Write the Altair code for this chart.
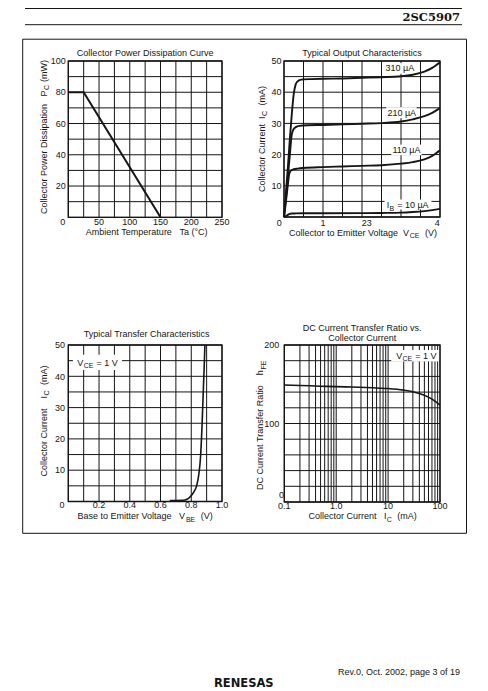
import altair as alt
import pandas as pd

# ---------------- data ----------------
# Panel 1: Collector Power Dissipation Curve
pd_ta = [0, 25, 150]
pd_pc = [80, 80, 0]
pd_xgrid = [0, 25, 50, 75, 100, 125, 150, 175, 200, 225, 250]
pd_ygrid = [0, 10, 20, 30, 40, 50, 60, 70, 80, 90, 100]
pd_xtick = [50, 100, 150, 200, 250]
pd_xtick_txt = ["50", "100", "150", "200", "250"]
pd_ytick = [20, 40, 60, 80, 100]
pd_ytick_txt = ["20", "40", "60", "80", "100"]

# Panel 2: Typical Output Characteristics
oc_vce_10 = [0, 0.05, 0.10, 0.15, 0.20, 0.30, 0.50, 1.00, 2.00, 2.50, 3.00, 3.30, 3.60, 3.80, 4.00]
oc_ic_10 = [0, 0.30, 0.70, 1.00, 1.10, 1.15, 1.20, 1.20, 1.25, 1.30, 1.40, 1.60, 1.90, 2.20, 2.60]
oc_vce_110 = [0, 0.05, 0.10, 0.13, 0.17, 0.25, 0.35, 0.50, 1.00, 1.50, 2.00, 2.50, 3.00, 3.30, 3.60, 3.80, 4.00]
oc_ic_110 = [0, 5.0, 10.5, 13.5, 14.8, 15.3, 15.5, 15.7, 16.0, 16.2, 16.4, 16.6, 17.1, 17.6, 18.5, 19.6, 21.4]
oc_vce_210 = [0, 0.05, 0.10, 0.15, 0.20, 0.25, 0.30, 0.40, 0.60, 1.00, 1.50, 2.00, 2.50, 3.00, 3.30, 3.60, 3.80, 4.00]
oc_ic_210 = [0, 6.0, 13.0, 20.0, 26.5, 28.2, 28.8, 29.2, 29.4, 29.5, 29.7, 29.9, 30.1, 30.6, 31.3, 32.3, 33.4, 34.9]
oc_vce_310 = [0, 0.05, 0.10, 0.15, 0.20, 0.25, 0.30, 0.35, 0.40, 0.50, 0.70, 1.00, 1.50, 2.00, 2.50, 3.00, 3.30, 3.60, 3.80, 4.00]
oc_ic_310 = [0, 8.0, 16.0, 25.0, 33.0, 39.5, 42.5, 43.5, 43.9, 44.1, 44.2, 44.3, 44.4, 44.6, 44.8, 45.1, 45.6, 46.6, 47.8, 49.6]
oc_xgrid = [0, 0.5, 1.0, 1.5, 2.0, 2.5, 3.0, 3.5, 4.0]
oc_ygrid = [0, 5, 10, 15, 20, 25, 30, 35, 40, 45, 50]
oc_xtick = [1, 2.12, 3.93]
oc_xtick_txt = ["1", "23", "4"]
oc_ytick = [10, 20, 30, 40, 50]
oc_ytick_txt = ["10", "20", "30", "40", "50"]
oc_lab_vce = [2.97, 3.02, 3.14]
oc_lab_ic = [47.7, 33.4, 21.5]
oc_lab_txt = ["310 µA", "210 µA", "110 µA"]
oc_ib_lab_at = [3.17, 3.85]
oc_box_v0 = [2.58, 2.62, 2.75, 2.58]
oc_box_v1 = [3.36, 3.40, 3.53, 3.78]
oc_box_i0 = [45.9, 31.7, 19.8, 2.4]
oc_box_i1 = [49.3, 35.2, 23.2, 5.6]

# Panel 3: Typical Transfer Characteristics
tc_vbe = [0.66, 0.70, 0.74, 0.76, 0.78, 0.80, 0.82, 0.835, 0.85, 0.86, 0.87, 0.878, 0.884, 0.889]
tc_ic = [0.3, 0.3, 0.35, 0.5, 0.9, 1.9, 3.3, 5.0, 9.0, 14.0, 24.0, 35.0, 43.0, 50.0]
tc_xgrid = [0, 0.1, 0.2, 0.3, 0.4, 0.5, 0.6, 0.7, 0.8, 0.9, 1.0]
tc_ygrid = [0, 5, 10, 15, 20, 25, 30, 35, 40, 45, 50]
tc_xtick = [0.2, 0.4, 0.6, 0.8, 1.0]
tc_xtick_txt = ["0.2", "0.4", "0.6", "0.8", "1.0"]
tc_ytick = [10, 20, 30, 40, 50]
tc_ytick_txt = ["10", "20", "30", "40", "50"]
tc_lab_at = [0.19, 44.4]
tc_box = [0.030, 0.350, 42.0, 46.9]

# Panel 4: DC Current Transfer Ratio vs. Collector Current
hf_ic = [0.1, 0.2, 0.5, 1, 2, 5, 10, 20, 30, 50, 70, 100]
hf_h = [149, 148.5, 147.5, 147, 146.5, 145.5, 144.5, 142.5, 140.5, 136, 131, 123.5]
hf_xgrid = [0.1, 0.2, 0.3, 0.4, 0.5, 0.6, 0.7, 0.8, 0.9, 1, 2, 3, 4, 5, 6, 7, 8, 9,
            10, 20, 30, 40, 50, 60, 70, 80, 90, 100]
hf_ygrid = [0, 20, 40, 60, 80, 100, 120, 140, 160, 180, 200]
hf_xtick = [0.1, 1, 10, 100]
hf_xtick_txt = ["0.1", "1.0", "10", "100"]
hf_ytick = [100, 200]
hf_ytick_txt = ["100", "200"]
hf_lab_at = [35, 186.4]
hf_box = [11.5, 97, 179, 193.5]

# ---------------- styling / layout ----------------
FONT = "Liberation Sans"
INK = "#151515"
M = 8  # page margin: page coordinate -> chart coordinate
NB = "\u00a0"

LAY = {
    "pd": dict(x0=68.3, x1=222.0, y0=61.0, y1=217.3),
    "oc": dict(x0=284.0, x1=440.0, y0=61.0, y1=217.0),
    "tc": dict(x0=68.3, x1=222.0, y0=345.0, y1=501.5),
    "hf": dict(x0=284.3, x1=440.0, y0=345.0, y1=502.0),
}

CW = {' ': 278, NB: 278, '(': 333, ')': 333, '.': 278, ',': 278, '=': 584, '°': 400, 'µ': 576,
      '-': 333, 'A': 667, 'B': 667, 'C': 722, 'D': 722, 'E': 667, 'F': 611, 'I': 278, 'M': 833,
      'P': 667, 'R': 722, 'S': 667, 'T': 611, 'V': 667, 'W': 944,
      'a': 556, 'b': 556, 'c': 500, 'd': 556, 'e': 556, 'f': 278, 'g': 556, 'h': 556, 'i': 222,
      'l': 222, 'm': 833, 'n': 556, 'o': 556, 'p': 556, 'r': 333, 's': 500, 't': 278, 'u': 556,
      'v': 500, 'w': 722, 'y': 500}


def tw(s, size):
    return sum(CW.get(c, 556) for c in s) * size / 1000.0


layers = []
ONE = pd.DataFrame({"k": [0]})


def add(ch):
    layers.append(ch)


def rich(pieces, x, y, data=None, angle=0, size=9, sub=7, drop=2.4, mid=3.2,
         font=FONT, weight="normal", align="center", color=INK, subpad=0.8):
    data = ONE if data is None else data
    if len(pieces) == 1 and not pieces[0][1]:
        add(alt.Chart(data).mark_text(text=pieces[0][0].replace(" ", NB), align=align,
                                      baseline="alphabetic", angle=angle, dy=mid, fontSize=size,
                                      font=font, fontWeight=weight, color=color)
            .encode(x=x, y=y))
        return
    # split every piece into (leading gap, visible text, trailing gap)
    parts = []
    for t, s in pieces:
        fs = sub if s else size
        core = t.strip(" ")
        lead = (len(t) - len(t.lstrip(" "))) * tw(" ", fs)
        trail = (len(t) - len(t.rstrip(" "))) * tw(" ", fs)
        w = tw(core.replace(" ", NB), fs) + (subpad if s else 0)
        parts.append((core.replace(" ", NB), s, fs, lead, w, trail))
    tot = sum(p[3] + p[4] + p[5] for p in parts)
    off = {"center": -tot / 2, "right": -tot, "left": 0}[align]
    for core, s, fs, lead, w, trail in parts:
        off += lead
        add(alt.Chart(data).mark_text(text=core, align="left", baseline="alphabetic", angle=angle,
                                      dx=round(off + (0.3 if s else 0), 2),
                                      dy=round(mid + (drop if s else 0), 2),
                                      fontSize=fs, font=font, fontWeight=weight,
                                      color=color).encode(x=x, y=y))
        off += w + trail


def V(v):
    return alt.value(round(v - M, 2))


def panel(key, xdom, ydom, xgrid, ygrid, xlog=False):
    p = LAY[key]
    if xlog:
        xs = alt.Scale(type="log", domain=xdom, range=[p["x0"] - M, p["x1"] - M], nice=False)
    else:
        xs = alt.Scale(domain=xdom, range=[p["x0"] - M, p["x1"] - M], nice=False, zero=False)
    ys = alt.Scale(domain=ydom, range=[p["y1"] - M, p["y0"] - M], nice=False, zero=False)

    def X(f):
        return alt.X(f, scale=xs, axis=None)

    def Y(f):
        return alt.Y(f, scale=ys, axis=None)

    vx = pd.DataFrame({"v": xgrid, "lo": [ydom[0]] * len(xgrid), "hi": [ydom[1]] * len(xgrid)})
    vy = pd.DataFrame({"v": ygrid, "lo": [xdom[0]] * len(ygrid), "hi": [xdom[1]] * len(ygrid)})
    add(alt.Chart(vx).mark_rule(color=INK, strokeWidth=1).encode(x=X("v:Q"), y=Y("lo:Q"), y2="hi:Q"))
    add(alt.Chart(vy).mark_rule(color=INK, strokeWidth=1).encode(y=Y("v:Q"), x=X("lo:Q"), x2="hi:Q"))
    return p, X, Y


def border(X, Y, xdom, ydom):
    df = pd.DataFrame({"a": [xdom[0]], "b": [xdom[1]], "c": [ydom[0]], "d": [ydom[1]]})
    add(alt.Chart(df).mark_rect(filled=False, color=INK, strokeWidth=1.3)
        .encode(x=X("a:Q"), x2="b:Q", y=Y("c:Q"), y2="d:Q"))


def boxes(X, Y, x0, x1, y0, y1):
    df = pd.DataFrame({"a": x0, "b": x1, "c": y0, "d": y1})
    add(alt.Chart(df).mark_rect(color="white", opacity=1)
        .encode(x=X("a:Q"), x2="b:Q", y=Y("c:Q"), y2="d:Q"))


def xlabels(X, Y, pos, txt, ybase, dy=7.2, dx=0):
    df = pd.DataFrame({"v": pos, "t": txt, "b": [ybase] * len(pos)})
    add(alt.Chart(df).mark_text(font=FONT, fontSize=9, color=INK, baseline="alphabetic",
                                align="center", dx=dx, dy=dy)
        .encode(x=X("v:Q"), y=Y("b:Q"), text="t:N"))


def ylabels(X, Y, pos, txt, xbase, dx=-3, dy=3.2):
    df = pd.DataFrame({"v": pos, "t": txt, "b": [xbase] * len(pos)})
    add(alt.Chart(df).mark_text(font=FONT, fontSize=9, color=INK, baseline="alphabetic",
                                align="right", dx=dx, dy=dy)
        .encode(x=X("b:Q"), y=Y("v:Q"), text="t:N"))


# ---------------- page furniture ----------------
add(alt.Chart(ONE).mark_rule(color=INK, strokeWidth=1).encode(x=V(25), x2=V(462), y=V(8.5)))
add(alt.Chart(ONE).mark_rule(color=INK, strokeWidth=1).encode(x=V(25), x2=V(462), y=V(24.7)))
rich([("2SC5907", 0)], V(460), V(16.7), font="DejaVu Serif", weight="bold", size=11.5,
     align="right", mid=4.1)
add(alt.Chart(ONE).mark_rect(filled=False, color=INK, strokeWidth=1)
    .encode(x=V(22.7), x2=V(466.5), y=V(39.2), y2=V(533.3)))
rich([("Rev.0, Oct. 2002, page 3 of 19", 0)], V(460), V(671.7), align="right")
rich([("RENESAS", 0)], V(243.8), V(683.3), font="DejaVu Sans", weight="bold", size=11.5,
     mid=4.1)

# ---------------- panel 1 ----------------
p, X, Y = panel("pd", [0, 250], [0, 100], pd_xgrid, pd_ygrid)
border(X, Y, [0, 250], [0, 100])
add(alt.Chart(pd.DataFrame({"ta": pd_ta, "pc": pd_pc})).mark_line(color=INK, strokeWidth=2)
    .encode(x=X("ta:Q"), y=Y("pc:Q")))
xlabels(X, Y, pd_xtick, pd_xtick_txt, 0, dy=7.6)
xlabels(X, Y, [0], ["0"], 0, dy=7.6, dx=-5.6)
ylabels(X, Y, pd_ytick, pd_ytick_txt, 0, dx=-2.6)
cx = (p["x0"] + p["x1"]) / 2
rich([("Collector Power Dissipation Curve", 0)], V(cx), V(52.7))
rich([("Ambient Temperature   Ta (°C)", 0)], V(cx + 1.5), V(232.0))
rich([("Collector Power Dissipation   P", 0), ("C", 1), (" (mW)", 0)], V(43.3), V(137.0),
     angle=270)

# ---------------- panel 2 ----------------
p, X, Y = panel("oc", [0, 4], [0, 50], oc_xgrid, oc_ygrid)
boxes(X, Y, oc_box_v0, oc_box_v1, oc_box_i0, oc_box_i1)
border(X, Y, [0, 4], [0, 50])
oc_rows = []
for ib, vs, cs in [("10", oc_vce_10, oc_ic_10), ("110", oc_vce_110, oc_ic_110),
                   ("210", oc_vce_210, oc_ic_210), ("310", oc_vce_310, oc_ic_310)]:
    for v, c in zip(vs, cs):
        oc_rows.append({"ib": ib, "vce": v, "ic": c})
add(alt.Chart(pd.DataFrame(oc_rows)).mark_line(color=INK, strokeWidth=1.9, interpolate="monotone")
    .encode(x=X("vce:Q"), y=Y("ic:Q"), detail="ib:N"))
xlabels(X, Y, oc_xtick, oc_xtick_txt, 0, dy=8.8)
xlabels(X, Y, [0], ["0"], 0, dy=8.8, dx=-4.7)
ylabels(X, Y, oc_ytick, oc_ytick_txt, 0, dx=-2.4)
for t, v, c in zip(oc_lab_txt, oc_lab_vce, oc_lab_ic):
    rich([(t, 0)], X("x:Q"), Y("y:Q"), data=pd.DataFrame({"x": [v], "y": [c]}))
rich([("I", 0), ("B", 1), (" = 10 µA", 0)], X("x:Q"), Y("y:Q"),
     data=pd.DataFrame({"x": [oc_ib_lab_at[0]], "y": [oc_ib_lab_at[1]]}))
cx = (p["x0"] + p["x1"]) / 2
rich([("Typical Output Characteristics", 0)], V(cx), V(52.7))
rich([("Collector to Emitter Voltage  V", 0), ("CE", 1), ("  (V)", 0)], V(cx + 1), V(232.8))
rich([("Collector Current  I", 0), ("C", 1), ("  (mA)", 0)], V(261.7), V(139.0), angle=270)

# ---------------- panel 3 ----------------
p, X, Y = panel("tc", [0, 1.0], [0, 50], tc_xgrid, tc_ygrid)
boxes(X, Y, [tc_box[0]], [tc_box[1]], [tc_box[2]], [tc_box[3]])
border(X, Y, [0, 1.0], [0, 50])
add(alt.Chart(pd.DataFrame({"vbe": tc_vbe, "ic": tc_ic}))
    .mark_line(color=INK, strokeWidth=1.6, interpolate="monotone")
    .encode(x=X("vbe:Q"), y=Y("ic:Q")))
xlabels(X, Y, tc_xtick, tc_xtick_txt, 0, dy=6.6)
xlabels(X, Y, [0], ["0"], 0, dy=6.6, dx=-6.4)
ylabels(X, Y, tc_ytick, tc_ytick_txt, 0, dx=-3.3)
rich([("V", 0), ("CE", 1), (" = 1 V", 0)], X("x:Q"), Y("y:Q"),
     data=pd.DataFrame({"x": [tc_lab_at[0]], "y": [tc_lab_at[1]]}))
cx = (p["x0"] + p["x1"]) / 2
rich([("Typical Transfer Characteristics", 0)], V(cx + 1.5), V(333.3))
rich([("Base to Emitter Voltage   V", 0), ("BE", 1), ("  (V)", 0)], V(cx), V(516.2))
rich([("Collector Current    I", 0), ("C", 1), ("  (mA)", 0)], V(43.3), V(421.0), angle=270)

# ---------------- panel 4 ----------------
p, X, Y = panel("hf", [0.1, 100], [0, 200], hf_xgrid, hf_ygrid, xlog=True)
boxes(X, Y, [hf_box[0]], [hf_box[1]], [hf_box[2]], [hf_box[3]])
border(X, Y, [0.1, 100], [0, 200])
add(alt.Chart(pd.DataFrame({"ic": hf_ic, "h": hf_h}))
    .mark_line(color=INK, strokeWidth=1.6, interpolate="monotone")
    .encode(x=X("ic:Q"), y=Y("h:Q")))
xlabels(X, Y, hf_xtick, hf_xtick_txt, 0, dy=6.6)
ylabels(X, Y, hf_ytick, hf_ytick_txt, 0.1, dx=-5)
xlabels(X, Y, [0.1], ["0"], 0, dy=-3.6, dx=-2.8)
rich([("V", 0), ("CE", 1), (" = 1 V", 0)], X("x:Q"), Y("y:Q"),
     data=pd.DataFrame({"x": [hf_lab_at[0]], "y": [hf_lab_at[1]]}))
cx = (p["x0"] + p["x1"]) / 2
rich([("DC Current Transfer Ratio vs.", 0)], V(cx), V(327.3))
rich([("Collector Current", 0)], V(cx), V(337.3))
rich([("Collector Current   I", 0), ("C", 1), ("  (mA)", 0)], V(cx + 0.5), V(516.2))
rich([("DC Current Transfer Ratio    h", 0), ("FE", 1)], V(260.0), V(425.0), angle=270)

chart = (
    alt.layer(*layers)
    .resolve_scale(x="independent", y="independent")
    .properties(width=472, height=683, padding=0,
                autosize=alt.AutoSizeParams(type="none"), background="white")
    .configure_view(strokeWidth=0)
)

chart.save("out.html", embed_options={"renderer": "svg", "actions": False})
